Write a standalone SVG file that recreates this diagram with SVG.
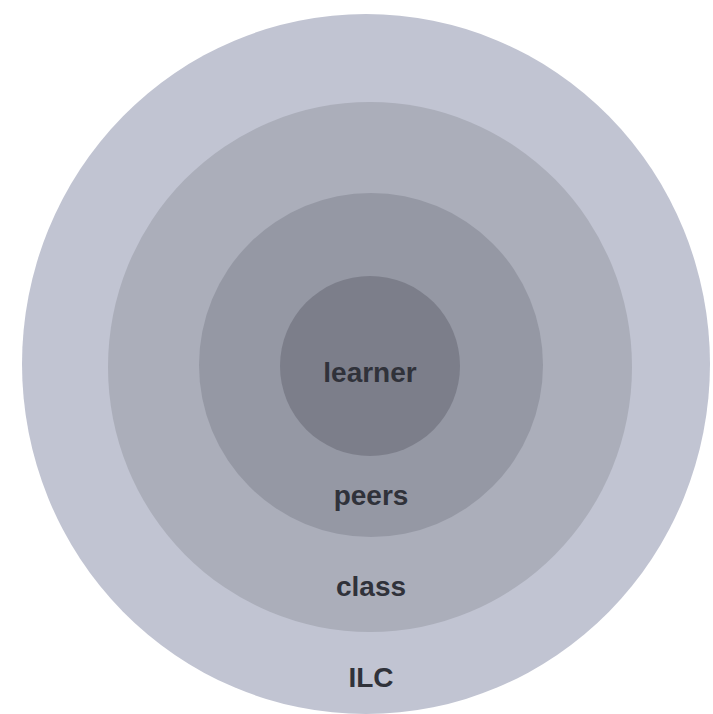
<svg xmlns="http://www.w3.org/2000/svg" width="713" height="714" viewBox="0 0 713 714">
<style>
.lbl{font-family:"Liberation Sans",Arial,sans-serif;font-weight:bold;font-size:28px;fill:#30323a;text-anchor:middle}
</style>
<rect width="713" height="714" fill="#ffffff"/>
<g id="ilc"><ellipse cx="366" cy="364" rx="344" ry="350" fill="#c1c4d2"/><text class="lbl" x="371" y="687">ILC</text></g>
<g id="class"><ellipse cx="370" cy="367" rx="262" ry="265" fill="#abaeba"/><text class="lbl" x="371" y="596">class</text></g>
<g id="peers"><ellipse cx="371" cy="365" rx="172" ry="172" fill="#9598a4"/><text class="lbl" x="371" y="505">peers</text></g>
<g id="learner"><circle cx="370" cy="366" r="90" fill="#7c7e8a"/><text class="lbl" x="370" y="382">learner</text></g>
<g id="connectors"></g>
</svg>
